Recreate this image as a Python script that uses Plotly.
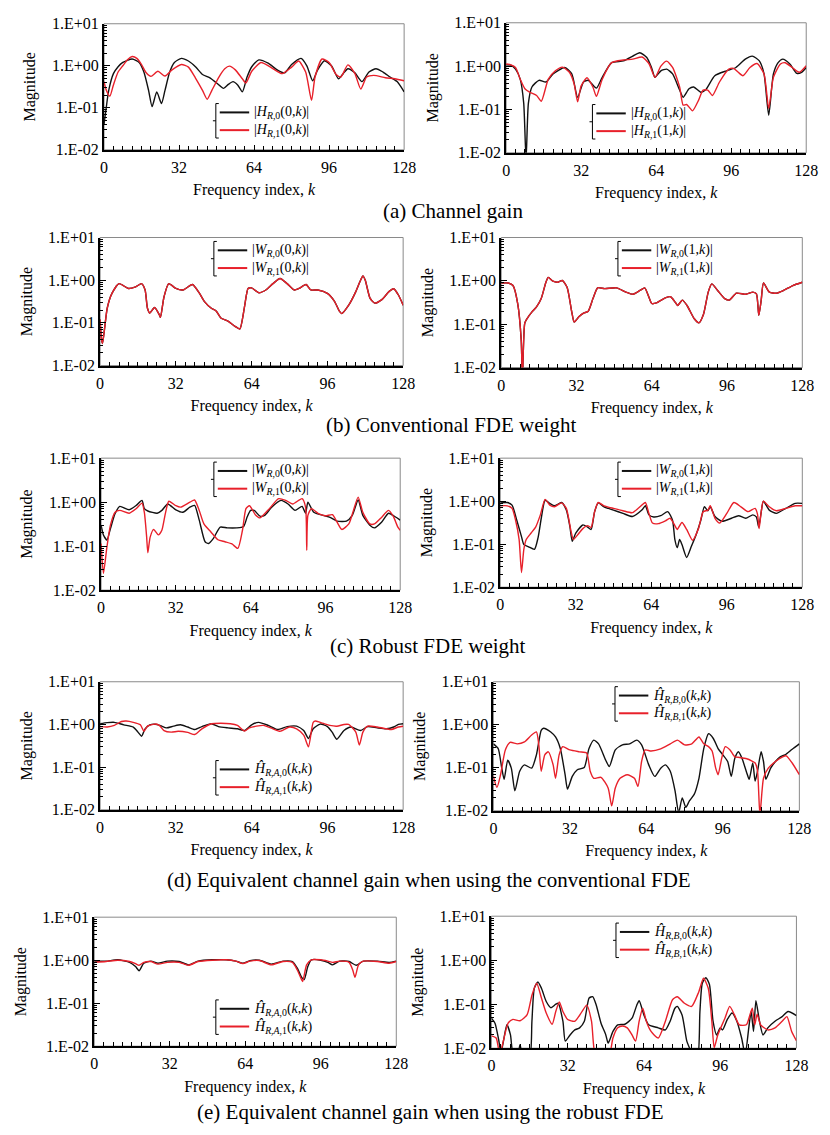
import plotly.graph_objects as go

FIG_W, FIG_H = 830, 1135
SERIF = "Liberation Serif, Times New Roman, serif"
BLACK = "#111111"
RED = "#e8202a"

# ---------------- (a) channel gain ----------------
k_h_r0_tx0 = [0, 1, 2, 4, 6, 8, 12, 15, 17, 19, 20.5, 22.5, 24.5, 26, 28, 30, 33, 36, 39, 42,
              45, 48, 51, 53, 55, 57, 59, 61, 63, 66, 70, 74, 77, 80, 84, 86.5, 89, 91, 94, 97,
              100, 102, 104, 107, 110, 113, 116, 119, 122, 125, 128]
h_r0_tx0 = [0.041, 0.107, 0.26, 0.65, 0.95, 1.2, 1.45, 1.2, 0.71, 0.26, 0.107, 0.24, 0.126, 0.26, 0.71, 1.2, 1.5, 1.3, 0.95, 0.62,
            0.52, 0.39, 0.29, 0.36, 0.42, 0.35, 0.24, 0.54, 0.95, 1.38, 1.15, 0.79, 0.68, 1.07, 1.5, 1.0, 0.44, 0.78, 1.32, 1.0,
            0.49, 0.65, 0.85, 0.68, 0.42, 0.71, 0.85, 0.71, 0.54, 0.42, 0.24]

k_h_r1_tx0 = [0, 1, 2.5, 4, 6, 8, 10, 12, 14, 16, 18, 20, 23, 26, 29, 33, 36, 39, 42, 44,
              46, 49, 51.5, 53.5, 56, 59, 60.5, 63, 67, 71, 76, 80, 83, 86, 88.5, 90, 93, 96, 99, 101,
              104, 107, 109.5, 112, 115, 120, 124, 128]
h_r1_tx0 = [0.42, 0.26, 0.19, 0.35, 0.71, 1.0, 1.4, 1.66, 1.5, 1.07, 0.68, 0.56, 0.74, 0.57, 0.8, 1.07, 0.93, 0.51, 0.26, 0.16,
            0.26, 0.54, 0.85, 0.98, 0.8, 0.49, 0.39, 0.74, 1.2, 0.93, 0.65, 0.93, 1.3, 0.71, 0.15, 0.54, 1.45, 1.2, 0.62, 0.54,
            1.05, 0.65, 0.28, 0.54, 0.59, 0.52, 0.49, 0.44]

k_h_r0_tx1 = [0, 2, 4, 6, 7.5, 8.5, 9.5, 11, 14, 17, 20, 25, 28, 30.5, 33, 35, 38.5, 41, 45, 50,
              54, 57, 60, 62, 63.5, 66, 68.5, 71, 74, 75.5, 78, 80, 83, 85, 89, 94, 98, 102, 105, 108,
              110, 112, 114, 116, 118, 121, 124, 126, 128]
h_r0_tx1 = [1.07, 1.05, 0.85, 0.5, 0.14, 0.007, 0.14, 0.33, 0.47, 0.43, 0.66, 0.93, 0.66, 0.19, 0.43, 0.47, 0.31, 0.55, 1.2, 1.32,
            1.7, 2.04, 1.58, 0.93, 0.55, 0.78, 0.85, 0.66, 0.28, 0.19, 0.3, 0.33, 0.25, 0.28, 0.6, 0.78, 0.93, 1.45, 1.7, 1.32,
            0.66, 0.074, 0.66, 1.2, 1.45, 1.12, 0.68, 0.72, 0.93]

k_h_r1_tx1 = [0, 2, 4, 6, 8, 10, 13, 15, 18, 21, 24, 27, 29, 30.5, 32, 34.5, 37, 38.5, 41, 45,
              50, 54, 58, 61, 63.5, 66, 68.5, 71, 74, 75.5, 77, 79.5, 82, 84, 86, 88, 91, 95, 97, 99,
              101, 104, 107, 110, 112, 114, 117, 119, 122, 125, 128]
h_r1_tx1 = [1.12, 1.07, 0.93, 0.5, 0.3, 0.25, 0.21, 0.155, 0.5, 0.78, 0.95, 0.72, 0.39, 0.15, 0.35, 0.54, 0.33, 0.2, 0.5, 1.2,
            1.38, 1.45, 1.62, 1.12, 0.55, 1.0, 1.3, 0.93, 0.33, 0.126, 0.13, 0.093, 0.16, 0.28, 0.28, 0.21, 0.43, 0.85, 0.89, 0.72,
            0.6, 0.93, 1.15, 0.66, 0.105, 0.55, 1.12, 1.2, 0.93, 0.72, 1.02]

# ---------------- (b) conventional FDE weight (both branches coincide) ----------------
k_wc_tx0 = [0, 0.5, 1, 2, 3, 5, 8, 12, 15, 17.5, 19, 20, 21, 23, 25, 25.5, 27, 29, 32, 35,
            39, 42, 44, 47, 49, 51, 54, 57, 59, 61, 62.5, 64, 67, 70, 73, 76, 79, 82, 84, 87,
            89, 92, 96, 99, 101, 102, 105, 108, 110, 111, 112, 114, 116, 119, 122, 124, 126, 128]
wc_r0_tx0 = [0.12, 0.045, 0.033, 0.083, 0.22, 0.49, 0.83, 0.64, 0.7, 0.83, 0.59, 0.22, 0.17, 0.23, 0.155, 0.135, 0.41, 0.83, 0.64, 0.59,
             0.79, 0.49, 0.32, 0.22, 0.19, 0.13, 0.11, 0.083, 0.072, 0.24, 0.64, 0.66, 0.51, 0.59, 0.83, 1.1, 0.83, 0.59, 0.64, 0.79,
             0.59, 0.59, 0.49, 0.32, 0.19, 0.165, 0.26, 0.54, 1.0, 1.26, 1.0, 0.38, 0.29, 0.35, 0.54, 0.63, 0.45, 0.26]
wc_r1_tx0 = list(wc_r0_tx0)

k_wc_tx1 = [0, 3, 5, 7, 8.5, 9, 10, 11, 13, 15, 17, 19, 20, 22, 24, 26, 28, 30, 31, 33,
            35, 37, 39, 41, 44, 49, 53, 56, 59, 61, 63, 64, 66, 70, 72, 74, 75, 77, 79, 82,
            84, 86, 88, 89.5, 92, 95, 97, 100, 104, 107, 108.5, 109.5, 110.5, 111.5, 114, 117, 120, 124, 128]
wc_r0_tx1 = [0.89, 0.89, 0.78, 0.3, 0.043, 0.005, 0.105, 0.135, 0.19, 0.25, 0.39, 0.93, 1.2, 0.98, 0.93, 1.02, 0.71, 0.19, 0.112, 0.148,
             0.18, 0.2, 0.39, 0.69, 0.66, 0.69, 0.55, 0.49, 0.6, 0.69, 0.39, 0.3, 0.31, 0.41, 0.43, 0.32, 0.27, 0.36, 0.27, 0.135,
             0.107, 0.17, 0.55, 0.85, 0.6, 0.39, 0.36, 0.52, 0.49, 0.55, 0.5, 0.16, 0.35, 0.89, 0.55, 0.52, 0.6, 0.78, 0.93]
wc_r1_tx1 = list(wc_r0_tx1)

# ---------------- (c) robust FDE weight ----------------
k_wr_r0_tx0 = [0, 1, 2.5, 4, 6, 8, 12, 15, 17.5, 18.5, 20, 24, 26, 28.5, 32, 35, 38, 40, 42, 44.5,
               46, 48, 51, 54, 58, 61, 62.5, 64, 65.5, 68, 70, 73, 77, 80, 83, 86, 87.5, 88.5, 91, 95,
               98, 101, 105, 107.5, 110, 112, 115, 117, 120, 123, 126, 128]
wr_r0_tx0 = [0.3, 0.18, 0.138, 0.25, 0.55, 0.8, 0.67, 0.84, 1.1, 0.71, 0.63, 0.56, 0.65, 0.91, 0.67, 0.59, 0.77, 0.84, 0.39, 0.126,
             0.115, 0.148, 0.27, 0.26, 0.26, 0.28, 0.46, 0.65, 0.65, 0.48, 0.5, 0.77, 1.1, 0.91, 0.65, 0.8, 0.56, 1.0, 0.59, 0.5,
             0.45, 0.37, 0.37, 0.5, 1.12, 0.5, 0.3, 0.26, 0.35, 0.56, 0.46, 0.39]

k_wr_r1_tx0 = [0, 1, 2.5, 4, 6, 8, 12, 15, 17.5, 18.5, 19.5, 20, 21, 22.5, 24.5, 26, 27.5, 29, 32, 34,
               38, 40, 42, 44, 47, 50, 53, 56, 58.5, 60.5, 62, 63.5, 66, 68, 72, 76, 79, 82, 86, 87.5,
               88, 88.5, 90, 93, 96, 99, 101, 103, 106, 108, 110, 112, 115, 117, 120, 123, 125, 127, 128]
wr_r1_tx0 = [0.115, 0.024, 0.096, 0.3, 0.59, 0.65, 0.56, 0.71, 0.95, 0.59, 0.16, 0.071, 0.16, 0.24, 0.18, 0.23, 0.55, 1.05, 0.83, 0.77,
             1.0, 1.12, 0.65, 0.32, 0.21, 0.14, 0.126, 0.112, 0.089, 0.23, 0.71, 0.83, 0.52, 0.44, 0.71, 1.2, 1.1, 0.91, 1.2, 0.77,
             0.081, 0.5, 0.71, 0.55, 0.49, 0.52, 0.35, 0.24, 0.32, 0.65, 1.3, 0.59, 0.32, 0.32, 0.45, 0.65, 0.48, 0.27, 0.23]

k_wr_r0_tx1 = [0, 3, 5, 7, 9, 10, 12, 14.5, 16, 17.5, 19, 21, 23, 26, 28, 29.5, 30.5, 32, 35, 37,
               38.5, 40, 41.5, 44, 48, 52, 56, 60, 61.5, 63, 65, 68, 71, 73, 74, 75, 76, 77, 79, 81,
               83, 85, 86.5, 88, 89, 91, 94, 98, 101, 104, 107, 108.5, 109.5, 110.5, 111.5, 114, 117, 121, 125, 128]
wr_r0_tx1 = [0.91, 0.93, 0.81, 0.36, 0.15, 0.098, 0.087, 0.076, 0.14, 0.44, 1.05, 0.89, 0.78, 0.93, 0.62, 0.26, 0.117, 0.18, 0.28, 0.25,
             0.22, 0.57, 0.91, 0.74, 0.62, 0.52, 0.44, 0.62, 0.78, 0.48, 0.43, 0.46, 0.57, 0.36, 0.128, 0.083, 0.128, 0.098, 0.049, 0.089,
             0.166, 0.36, 0.74, 0.6, 0.74, 0.44, 0.34, 0.4, 0.46, 0.4, 0.48, 0.43, 0.25, 0.52, 1.0, 0.62, 0.52, 0.68, 0.89, 0.89]

k_wr_r1_tx1 = [0, 3, 5, 6.5, 8, 9, 10, 11, 13, 15, 17, 19, 21, 23, 26, 28, 30, 31, 33, 35,
               37, 38.5, 40, 41.5, 44, 48, 52, 56, 60, 61.5, 63, 64.5, 67, 70, 72, 74, 75, 77, 79, 81.5,
               84, 86, 88, 89, 91, 93, 96, 99, 102, 105, 108, 109, 109.7, 110.5, 111.5, 114, 117, 121, 125, 128]
wr_r1_tx1 = [0.78, 0.78, 0.68, 0.36, 0.128, 0.022, 0.076, 0.128, 0.18, 0.25, 0.48, 1.1, 0.81, 0.74, 0.91, 0.68, 0.2, 0.128, 0.17, 0.23,
             0.27, 0.245, 0.57, 0.93, 0.78, 0.68, 0.6, 0.54, 0.81, 0.93, 0.52, 0.31, 0.3, 0.35, 0.4, 0.27, 0.22, 0.32, 0.22, 0.123,
             0.23, 0.57, 0.62, 0.78, 0.4, 0.31, 0.52, 0.93, 0.74, 0.57, 0.68, 0.5, 0.23, 0.52, 1.0, 0.74, 0.6, 0.68, 0.78, 0.78]

# ---------------- (d) equivalent channel gain, conventional FDE ----------------
k_ec_a0 = [0, 3, 6, 10, 14, 16, 17.5, 19, 21, 24, 26, 28, 31, 34, 37, 40, 43, 47, 50, 54,
           58, 61, 64, 67, 71, 75, 79, 83, 86, 88, 90, 93, 96, 98, 100, 103, 106, 110, 113, 117,
           121, 124, 126, 128]
ec_a0 = [1.04, 1.1, 1.12, 0.98, 0.87, 0.66, 0.53, 0.79, 0.98, 1.0, 0.91, 0.83, 0.91, 0.98, 0.87, 0.76, 0.89, 1.04, 0.89, 0.83,
         0.79, 0.72, 0.98, 1.12, 0.95, 0.76, 0.89, 0.91, 0.72, 0.47, 0.79, 1.02, 0.89, 0.66, 0.45, 0.72, 0.87, 0.72, 0.89, 0.83,
         0.79, 0.87, 1.0, 1.04]

k_ec_a1 = [0, 3, 6, 9, 11, 14, 17, 18.5, 20, 23, 25, 27, 30, 33, 37, 40, 43, 47, 51, 55,
           58, 61, 63, 66, 69, 73, 76, 80, 83, 86, 88, 90, 91, 94, 97, 100, 103, 105, 108, 109.5,
           111, 113, 117, 121, 123, 126, 128]
ec_a1 = [0.89, 0.87, 0.95, 1.17, 1.2, 1.12, 0.98, 0.69, 0.91, 1.02, 0.95, 0.72, 0.66, 0.69, 0.65, 0.58, 0.79, 1.04, 1.07, 1.04,
         0.95, 0.7, 0.83, 0.91, 0.95, 0.79, 0.69, 0.87, 0.79, 0.56, 0.3, 1.12, 1.2, 1.07, 0.95, 0.91, 1.0, 1.0, 0.66, 0.33,
         0.66, 0.91, 0.87, 0.79, 0.76, 0.87, 0.91]

k_ec_b0 = [0, 2, 3.5, 4.5, 6, 7.5, 9, 11, 13, 16, 18, 20, 21, 24, 26, 28, 30, 31, 33, 35,
           38, 40, 42, 44, 47, 48.5, 51, 54, 57, 60, 62, 65, 67.5, 70, 72, 74, 76, 77.5, 79, 80.5,
           82, 84, 86, 88, 90, 92, 94, 96, 98, 99.5, 101, 102.5, 104, 106, 107, 108.5, 109.5, 110.5, 112, 113,
           114, 116, 118, 120, 122, 125, 128]
ec_b0 = [0.36, 0.28, 0.098, 0.054, 0.15, 0.098, 0.029, 0.083, 0.117, 0.098, 0.2, 0.74, 0.83, 0.68, 0.52, 0.28, 0.069, 0.032, 0.063, 0.089,
         0.102, 0.28, 0.44, 0.36, 0.15, 0.107, 0.26, 0.34, 0.36, 0.44, 0.34, 0.117, 0.063, 0.098, 0.117, 0.083, 0.029, 0.009, 0.02, 0.012,
         0.017, 0.024, 0.057, 0.28, 0.62, 0.48, 0.28, 0.2, 0.14, 0.063, 0.166, 0.235, 0.166, 0.076, 0.054, 0.129, 0.049, 0.083, 0.235, 0.14,
         0.054, 0.098, 0.14, 0.18, 0.2, 0.27, 0.36]

k_ec_b1 = [0, 1.5, 3, 5, 7, 10, 13, 16, 18, 19, 20, 21.5, 23, 25, 26, 27.5, 29, 32, 36, 39,
           40.5, 42, 45, 48, 49.5, 51, 53, 56, 59, 60.5, 62, 63.5, 66, 70, 74, 77, 80, 83, 86, 88,
           90, 91.5, 93, 94, 95.5, 97, 99, 101, 103, 106, 108, 109.5, 110.5, 111.5, 113, 115, 118, 121, 122.5, 125,
           128]
ec_b1 = [0.063, 0.035, 0.069, 0.26, 0.39, 0.36, 0.4, 0.58, 0.68, 0.34, 0.083, 0.2, 0.235, 0.117, 0.057, 0.2, 0.31, 0.26, 0.235, 0.22,
         0.083, 0.057, 0.06, 0.034, 0.013, 0.034, 0.057, 0.069, 0.057, 0.037, 0.14, 0.26, 0.245, 0.275, 0.36, 0.44, 0.34, 0.36, 0.52, 0.36,
         0.31, 0.245, 0.098, 0.069, 0.166, 0.31, 0.26, 0.18, 0.174, 0.162, 0.145, 0.129, 0.083, 0.008, 0.057, 0.098, 0.14, 0.18, 0.19, 0.129,
         0.069]

# ---------------- (e) equivalent channel gain, robust FDE ----------------
k_er_a0 = [0, 5, 10, 15, 17.5, 19, 21, 24, 27, 31, 36, 40, 44, 50, 56, 60, 63, 66, 70, 75,
           80, 84, 86, 88, 89, 90.5, 92, 96, 99, 101, 104, 108, 111, 114, 120, 125, 128]
er_a0 = [0.95, 0.95, 1.02, 0.89, 0.71, 0.57, 0.85, 0.95, 0.85, 0.95, 0.93, 0.78, 0.95, 1.02, 1.02, 0.95, 0.85, 0.98, 1.0, 0.81,
         0.95, 0.93, 0.66, 0.39, 0.355, 0.71, 1.02, 1.0, 0.89, 0.78, 0.95, 0.93, 0.76, 0.95, 0.95, 0.89, 0.95]

k_er_a1 = [0, 5, 10, 15, 17.5, 19, 21, 24, 27, 31, 36, 40, 44, 50, 56, 60, 63, 66, 70, 75,
           80, 84, 86, 87.5, 88.3, 90, 92, 96, 99, 101, 104, 108, 109.5, 110.5, 112, 114, 120, 125, 128]
er_a1 = [0.89, 0.93, 1.0, 0.93, 0.83, 0.76, 0.89, 0.93, 0.81, 0.89, 0.89, 0.76, 0.93, 1.0, 1.02, 0.95, 0.83, 0.95, 0.98, 0.78,
         0.93, 0.89, 0.6, 0.39, 0.32, 0.78, 1.02, 1.02, 0.95, 0.89, 0.95, 0.89, 0.6, 0.4, 0.78, 0.95, 0.93, 0.85, 0.93]

k_er_b0 = [0, 1.5, 3, 4, 5, 6.5, 8, 9, 11, 12, 13, 16, 17, 18, 19.5, 21, 23, 25, 27, 28,
           30, 31, 33, 35, 37, 39, 41, 42.5, 44, 46, 48, 49, 51, 53, 56, 59, 61, 62, 64, 66,
           70, 73, 75, 77, 78, 80, 82, 83, 85, 86.5, 87.5, 88.5, 90, 91.5, 93, 94.5, 96, 97, 99, 101,
           103, 105, 106.5, 108, 109, 110, 111, 112.5, 114, 116, 119, 122, 124.5, 128]
er_b0 = [0.048, 0.037, 0.016, 0.008, 0.014, 0.034, 0.02, 0.008, 0.007, 0.012, 0.007, 0.006, 0.041, 0.23, 0.32, 0.23, 0.115, 0.083, 0.1, 0.105,
         0.041, 0.0145, 0.02, 0.026, 0.029, 0.041, 0.138, 0.148, 0.095, 0.037, 0.02, 0.013, 0.024, 0.034, 0.035, 0.048, 0.095, 0.12, 0.057, 0.034,
         0.029, 0.026, 0.041, 0.081, 0.089, 0.057, 0.0145, 0.0105, 0.006, 0.006, 0.068, 0.3, 0.4, 0.28, 0.041, 0.02, 0.029, 0.026, 0.045, 0.063,
         0.041, 0.017, 0.007, 0.029, 0.068, 0.024, 0.12, 0.041, 0.02, 0.029, 0.041, 0.052, 0.068, 0.055]

k_er_b1 = [0, 2, 3.5, 5, 7, 9, 12, 15, 17, 19, 21, 23, 25.5, 27, 28.5, 30, 32, 35, 38, 40,
           42, 43.5, 46, 49.5, 51, 53, 55, 57, 59, 60.5, 62, 63.5, 65, 67, 70, 73, 76, 78, 81, 84,
           87, 89, 91, 92.5, 93.5, 95, 98, 100, 102, 104, 107, 108.5, 109.5, 110.5, 111.5, 113, 116, 119, 122, 124,
           126, 128]
er_b1 = [0.019, 0.017, 0.007, 0.0145, 0.037, 0.045, 0.042, 0.058, 0.16, 0.3, 0.138, 0.063, 0.035, 0.068, 0.112, 0.068, 0.045, 0.041, 0.068, 0.095,
         0.041, 0.007, 0.005, 0.007, 0.017, 0.029, 0.032, 0.029, 0.02, 0.0145, 0.041, 0.081, 0.041, 0.024, 0.017, 0.041, 0.126, 0.148, 0.105, 0.089,
         0.19, 0.39, 0.23, 0.041, 0.0102, 0.02, 0.048, 0.089, 0.057, 0.034, 0.034, 0.057, 0.081, 0.034, 0.059, 0.034, 0.026, 0.029, 0.041, 0.052,
         0.024, 0.0148]

# ---------------- legend labels ----------------
def lab_h(r, t):
    return f"|<i>H</i><sub><i>R</i>,{r}</sub>({t},<i>k</i>)|"

def lab_w(r, t):
    return f"|<i>W</i><sub><i>R</i>,{r}</sub>({t},<i>k</i>)|"

def lab_eq(g, r):
    return f"<i>Ĥ</i><sub><i>R</i>,<i>{g}</i>,{r}</sub>(<i>k</i>,<i>k</i>)"

# ---------------- panel geometry (pixels) ----------------
# box = (left, top, right, bottom) of plotting area; leg = (x of key line start, y of first key row)
PANELS = [
    dict(box=(102, 16, 408, 144), leg=(220, 106),
         series=[(lab_h(0, 0), k_h_r0_tx0, h_r0_tx0, BLACK), (lab_h(1, 0), k_h_r1_tx0, h_r1_tx0, RED)]),
    dict(box=(512, 15, 818, 147), leg=(604, 107),
         series=[(lab_h(0, 1), k_h_r0_tx1, h_r0_tx1, BLACK), (lab_h(1, 1), k_h_r1_tx1, h_r1_tx1, RED)]),
    dict(box=(98, 233, 407, 363), leg=(218, 246),
         series=[(lab_w(0, 0), k_wc_tx0, wc_r0_tx0, BLACK), (lab_w(1, 0), k_wc_tx0, wc_r1_tx0, RED)]),
    dict(box=(507, 233, 814, 365), leg=(630, 246),
         series=[(lab_w(0, 1), k_wc_tx1, wc_r0_tx1, BLACK), (lab_w(1, 1), k_wc_tx1, wc_r1_tx1, RED)]),
    dict(box=(99, 457, 404, 591), leg=(218, 470),
         series=[(lab_w(0, 0), k_wr_r0_tx0, wr_r0_tx0, BLACK), (lab_w(1, 0), k_wr_r1_tx0, wr_r1_tx0, RED)]),
    dict(box=(506, 457, 814, 588), leg=(630, 470),
         series=[(lab_w(0, 1), k_wr_r0_tx1, wr_r0_tx1, BLACK), (lab_w(1, 1), k_wr_r1_tx1, wr_r1_tx1, RED)]),
    dict(box=(98, 684, 407, 814), leg=(220, 773),
         series=[(lab_eq("A", 0), k_ec_a0, ec_a0, BLACK), (lab_eq("A", 1), k_ec_a1, ec_a1, RED)]),
    dict(box=(499, 684, 811, 815), leg=(627, 698),
         series=[(lab_eq("B", 0), k_ec_b0, ec_b0, BLACK), (lab_eq("B", 1), k_ec_b1, ec_b1, RED)]),
    dict(box=(92, 923, 400, 1054), leg=(220, 1016),
         series=[(lab_eq("A", 0), k_er_a0, er_a0, BLACK), (lab_eq("A", 1), k_er_a1, er_a1, RED)]),
    dict(box=(497, 922, 808, 1056), leg=(628, 938),
         series=[(lab_eq("B", 0), k_er_b0, er_b0, BLACK), (lab_eq("B", 1), k_er_b1, er_b1, RED)]),
]
KEY_ROW_GAP = 18
KEY_LEN = 30

CAPTIONS = [
    ("(a) Channel gain", 458, 206),
    ("(b) Conventional FDE weight", 456, 423),
    ("(c) Robust FDE weight", 432, 648),
    ("(d) Equivalent channel gain when using the conventional FDE", 433, 885),
    ("(e) Equivalent channel gain when using the robust FDE", 435, 1121),
]

Y_TICKS = [0.01, 0.1, 1, 10]
Y_TICKTEXT = ["1.E-02", "1.E-01", "1.E+00", "1.E+01"]
Y_MINOR = [m * 10.0 ** e for e in (-2, -1, 0) for m in range(2, 10)]
X_TICKS = [0, 32, 64, 96, 128]


def px(x):
    return x / FIG_W


def py(y):
    return 1 - y / FIG_H


fig = go.Figure()
layout = dict(
    width=FIG_W, height=FIG_H, margin=dict(l=0, r=0, t=0, b=0),
    paper_bgcolor="white", plot_bgcolor="white", showlegend=False,
    font=dict(family=SERIF, color="black"),
)
shapes, annotations = [], []

for i, p in enumerate(PANELS, start=1):
    sfx = "" if i == 1 else str(i)
    xa, ya = f"x{sfx}", f"y{sfx}"
    for name, kk, vv, col in p["series"]:
        if len(kk) != len(vv):
            raise ValueError(f"length mismatch in panel {i}: {name}")
        fig.add_trace(go.Scatter(
            x=kk, y=vv, mode="lines", name=name, xaxis=xa, yaxis=ya,
            line=dict(color=col, width=1.4, shape="spline", smoothing=0.6),
        ))

    l, t, r, b = p["box"]
    layout[f"xaxis{sfx}"] = dict(
        domain=[px(l), px(r)], anchor=ya, range=[0, 128],
        tickmode="array", tickvals=X_TICKS, ticks="inside", ticklen=5, tickwidth=1, tickcolor="black",
        minor=dict(tickmode="linear", tick0=0, dtick=4, ticks="inside", ticklen=4, tickcolor="black", showgrid=False),
        showgrid=False, zeroline=False, showline=True, linecolor="black", linewidth=2, mirror=False,
        tickfont=dict(family=SERIF, size=16, color="black"), ticklabelstandoff=2,
        title=dict(text="Frequency index, <i>k</i>", font=dict(family=SERIF, size=16, color="black"), standoff=9),
    )
    layout[f"yaxis{sfx}"] = dict(
        domain=[py(b), py(t)], anchor=xa, type="log", range=[-2, 1],
        tickmode="array", tickvals=Y_TICKS, ticktext=Y_TICKTEXT,
        ticks="inside", ticklen=6, tickwidth=1, tickcolor="black",
        minor=dict(tickmode="array", tickvals=Y_MINOR, ticks="inside", ticklen=3, tickcolor="black", showgrid=False),
        showgrid=False, zeroline=False, showline=True, linecolor="black", linewidth=2, mirror=False,
        tickfont=dict(family=SERIF, size=16, color="black"),
        title=dict(text="Magnitude", font=dict(family=SERIF, size=16, color="black"), standoff=12),
    )
    # light frame on the top and right sides
    shapes.append(dict(type="rect", xref=f"{xa} domain", yref=f"{ya} domain", x0=0, x1=1, y0=0, y1=1,
                       line=dict(color="#8a8a8a", width=1), layer="below"))

    # key: bracket, two line samples and their labels
    lx, ly = p["leg"]
    for row, (name, _, _, col) in enumerate(p["series"]):
        yy = ly + row * KEY_ROW_GAP
        shapes.append(dict(type="line", xref="paper", yref="paper",
                           x0=px(lx), x1=px(lx + KEY_LEN), y0=py(yy), y1=py(yy),
                           line=dict(color=col, width=2)))
        annotations.append(dict(text=name, x=px(lx + KEY_LEN + 3), y=py(yy), xref="paper", yref="paper",
                                xanchor="left", yanchor="middle", showarrow=False,
                                font=dict(family=SERIF, size=14, color="black")))
    bx, top, bot = lx - 4, ly - 9, ly + KEY_ROW_GAP + 8
    mid = (top + bot) / 2
    path = (f"M {px(bx + 3)},{py(top)} L {px(bx)},{py(top)} L {px(bx)},{py(bot)} L {px(bx + 3)},{py(bot)} "
            f"M {px(bx)},{py(mid)} L {px(bx - 3)},{py(mid)}")
    shapes.append(dict(type="path", xref="paper", yref="paper", path=path,
                       line=dict(color="black", width=1)))

for text, cx, cy in CAPTIONS:
    annotations.append(dict(text=text, x=px(cx), y=py(cy), xref="paper", yref="paper",
                            xanchor="center", yanchor="middle", showarrow=False,
                            font=dict(family=SERIF, size=21, color="black")))

layout["shapes"] = shapes
layout["annotations"] = annotations
fig.update_layout(**layout)
fig.write_html("out.html")
